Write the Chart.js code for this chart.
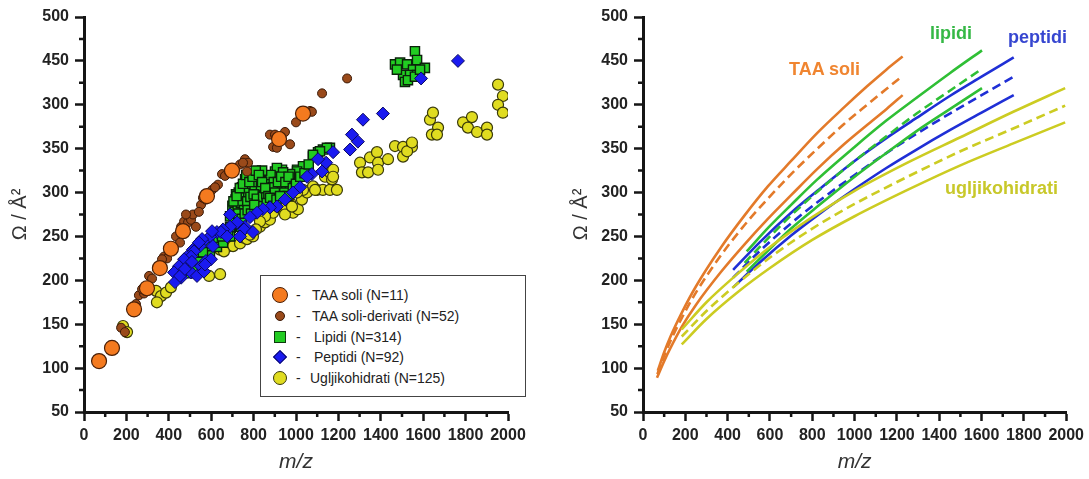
<!DOCTYPE html>
<html lang="hr">
<head>
<meta charset="UTF-8">
<title>Omega vs m/z</title>
<style>
  body { margin: 0; background: #fff; font-family: 'Liberation Sans', Arial, sans-serif; }
  #wrap { position: relative; width: 1089px; height: 479px; overflow: hidden; }
  .panel { position: absolute; top: 0; height: 479px; }
  #left { left: 0; width: 545px; }
  #right { left: 545px; width: 544px; }
  #legend { position: absolute; left: 260px; top: 275px; width: 264px; height: 120px; border: 1px solid #444; background: #fff; }
  .row { position: absolute; left: 0; width: 260px; height: 20px; line-height: 20px; font-size: 14px; color: #222; }
  .row .dash { position: absolute; left: 35px; }
  .row .txt { position: absolute; white-space: nowrap; }
  .mk { position: absolute; box-sizing: border-box; }
  .tag { position: absolute; font-weight: bold; font-size: 18px; line-height: 20px; white-space: nowrap; }
</style>
</head>
<body>
<div id="wrap">
  <div class="panel" id="left"><canvas id="scatterChart"></canvas></div>
  <div class="panel" id="right"><canvas id="fitChart"></canvas></div>

  <div id="legend">
    <div class="row" style="top:9px"><span class="mk" style="left:11px;top:2px;width:16px;height:16px;border-radius:50%;background:#f47a1f;border:1.5px solid #4a2008"></span><span class="dash">-</span><span class="txt" style="left:51px">TAA soli (N=11)</span></div>
    <div class="row" style="top:30px"><span class="mk" style="left:14px;top:5px;width:10px;height:10px;border-radius:50%;background:#9a4a1a;border:1px solid #3a1a08"></span><span class="dash">-</span><span class="txt" style="left:51px">TAA soli-derivati (N=52)</span></div>
    <div class="row" style="top:51px"><span class="mk" style="left:13px;top:4px;width:12px;height:12px;background:#22cc22;border:1.5px solid #0d3a0d"></span><span class="dash">-</span><span class="txt" style="left:53px">Lipidi (N=314)</span></div>
    <div class="row" style="top:71px"><span class="mk" style="left:14px;top:5px;width:10px;height:10px;background:#1a1af0;border:1px solid #0a0a60;transform:rotate(45deg)"></span><span class="dash">-</span><span class="txt" style="left:53px">Peptidi (N=92)</span></div>
    <div class="row" style="top:92px"><span class="mk" style="left:12px;top:3px;width:14px;height:14px;border-radius:50%;background:#e0dc20;border:1.5px solid #3a3a0a"></span><span class="dash">-</span><span class="txt" style="left:49px">Ugljikohidrati (N=125)</span></div>
  </div>

  <div class="tag" style="left:789px;top:59px;color:#f08530">TAA soli</div>
  <div class="tag" style="left:930px;top:23px;color:#35b845">lipidi</div>
  <div class="tag" style="left:1008px;top:27px;color:#3646d0">peptidi</div>
  <div class="tag" style="left:945px;top:178px;color:#c8c82a">ugljikohidrati</div>
</div>

<script src="https://cdn.jsdelivr.net/npm/chart.js"></script>
<script>
// tick labels as printed in the figure (third label from the top really reads 300)
const xTickLabels = ['0', '200', '400', '600', '800', '1000', '1200', '1400', '1600', '1800', '2000'];
const yTickLabels = ['50', '100', '150', '200', '250', '300', '350', '300', '450', '500'];

// left panel: [m/z, omega]
const taaSoli = [[71,108],[132,123],[236,167],[297,191],[358,214],[410,236],[467,256],[580,296],[698,325],[920,361],[1033,390]];

const taaDerivati = [[175,146],[193,141],[231,164],[259,183],[283,185],[307,205],[321,202],[344,213],[377,227],[392,225],
  [420,235],[434,250],[453,243],[458,261],[472,267],[491,266],[505,269],[514,275],[528,261],[552,286],[561,294],[604,303],
  [632,309],[651,321],[665,319],[712,328],[736,332],[759,338],[774,334],[769,324],[750,334],[877,366],[892,352],[910,351],
  [901,366],[948,369],[972,355],[1000,380],[1066,393],[1123,413],[1241,430],[1075,392],[481,275],[542,278],[575,292],
  [368,224],[406,238],[274,190],[245,173],[684,324],[618,306],[925,360]];

const lipidi = [[693,260],[660,255],[637,249],[623,244],[575,232],[552,224],[528,222],[519,230],[505,221],[557,238],
  [590,241],[722,267],[741,261],[486,221],[514,216],[547,222],[571,230],[594,232],[627,238],[656,243],[689,250],[585,239],
  [524,227],[561,232],[547,221],[651,250],[679,255],[689,261],[726,269],[736,281],[750,292],[783,303],[816,311],[844,315],
  [868,318],[901,324],[934,326],[972,317],[1005,326],[1042,330],[1080,341],[1104,346],[1127,349],[1160,351],[910,328],
  [783,318],[769,311],[797,292],[830,296],[863,303],[722,289],[703,281],[736,269],[783,284],[821,289],[854,290],[887,296],
  [915,303],[939,307],[972,311],[1005,315],[1033,321],[1052,324],[939,318],[868,311],[830,306],[807,300],[769,296],
  [750,283],[726,277],[689,273],[1146,351],[1113,347],[1080,343],[1033,330],[1005,324],[972,321],[934,313],[910,307],
  [892,318],[939,323],[972,307],[892,300],[759,298],[792,306],[830,315],[840,301],[877,308],[774,286],[811,281],[849,285],
  [717,298],[745,306],[470,212],[495,208],
  [700,285],[715,292],[730,300],[745,295],[760,305],[775,300],[790,310],[805,305],[820,312],[835,308],[850,318],[865,313],
  [880,320],[895,312],[710,278],[725,283],[740,288],[755,280],[770,290],[785,295],[800,298],[815,293],[830,285],[845,295],
  [860,298],[875,302],[890,306],[760,315],[800,320],[840,325],
  [705,290],[720,296],[735,305],[750,310],[765,320],[780,312],[795,318],[810,325],[825,320],[840,312],[855,305],[870,296],
  [885,290],[900,300],[915,312],[930,318],[945,300],[960,296],[712,272],[728,276],[744,270],[758,276],[772,280],[788,276],
  [803,286],[862,288],[878,294],[893,285],[908,292],[925,296],[950,312],[965,318],[985,305],[1000,310],[1020,318],
  [1040,322],[1060,332],
  [1561,461],[1571,451],[1608,442],[1467,446],[1491,448],[1524,446],[1552,440],[1505,434],[1538,434],[1571,434],
  [1514,426],[1528,428],[1561,432],[1585,440],[1476,440]];

const peptidi = [[1764,450],[1590,430],[1410,390],[1316,383],[1264,366],[1292,358],[1255,349],[1175,346],[1142,334],
  [1123,324],[1075,321],[1052,318],[1019,306],[986,300],[948,292],[910,284],[877,283],[844,281],[816,277],[783,272],
  [759,261],[722,266],[689,261],[656,258],[627,255],[594,250],[561,244],[547,239],[514,235],[486,227],[462,218],[755,258],
  [646,255],[604,256],[557,247],[542,243],[519,233],[505,227],[472,224],[448,216],[425,209],[472,210],[505,209],[533,205],
  [458,203],[552,216],[575,222],[599,224],[566,210],[429,198],[453,205],[476,213],[509,221],[608,239],[675,250],[736,250],
  [797,255],[571,218],[689,275],[1104,338]];

const ugljikohidrati = [[184,148],[203,141],[340,188],[363,182],[344,175],[387,186],[410,192],[590,205],[642,207],
  [642,235],[675,238],[703,239],[736,242],[750,249],[660,233],[769,247],[797,250],[830,261],[854,266],[877,269],[892,277],
  [854,273],[830,267],[915,284],[939,286],[972,289],[986,277],[1009,281],[1028,292],[1052,300],[1080,307],[1099,303],
  [1033,303],[1005,300],[1127,303],[1160,303],[1193,303],[1137,318],[1160,323],[1175,326],[1170,315],[1302,334],[1311,323],
  [1340,323],[1349,340],[1382,346],[1387,334],[1387,326],[1434,338],[1467,353],[1505,352],[1547,352],[1505,341],[1524,347],
  [1547,357],[1632,383],[1646,391],[1670,374],[1641,366],[1665,366],[1788,380],[1830,386],[1811,374],[1854,369],[1901,374],
  [1901,366],[1953,423],[1976,410],[1953,400],[1976,391],[1090,303],[783,252],[811,258],[948,275],[962,292],[981,284],[1175,318]];

// right panel: fitted curves with their bands
const taaUpper = [[70,97],[100,118],[130,136],[183,163],[250,193],[370,238],[480,274],[590,307],[700,336],[824,368],[950,397],[1059,421],[1150,440],[1227,455]];
const taaMid   = [[68,93],[100,114],[130,131],[183,157],[250,186],[370,229],[480,263],[590,293],[700,321],[824,350],[950,378],[1059,400],[1150,418],[1227,433]];
const taaLower = [[66,89],[100,108],[130,123],[183,147],[250,172],[370,210],[480,241],[590,270],[700,297],[824,327],[950,355],[1059,377],[1150,395],[1227,411]];
const lipUpper = [[490,233],[600,262],[700,286],[824,315],[1000,352],[1150,382],[1293,408],[1450,436],[1602,462]];
const lipMid   = [[480,220],[600,250],[700,274],[824,301],[1000,336],[1150,364],[1293,390],[1450,416],[1602,441]];
const lipLower = [[490,210],[600,236],[700,259],[824,284],[1000,318],[1150,345],[1293,370],[1450,395],[1602,419]];
const pepUpper = [[426,212],[550,243],[700,277],[824,302],[1000,336],[1150,362],[1293,385],[1450,410],[1600,432],[1752,454]];
const pepMid   = [[426,203],[550,233],[700,265],[824,289],[1000,320],[1150,345],[1293,367],[1450,390],[1600,411],[1752,432]];
const pepLower = [[426,192],[550,220],[700,251],[824,274],[1000,304],[1150,328],[1293,349],[1450,371],[1600,391],[1752,411]];
const ugjUpper = [[183,144],[300,175],[450,208],[600,238],[800,272],[1000,302],[1250,334],[1500,363],[1750,392],[1995,419]];
const ugjMid   = [[183,136],[300,165],[450,197],[600,226],[800,259],[1000,287],[1250,318],[1500,347],[1750,373],[1995,399]];
const ugjLower = [[183,127],[300,156],[450,187],[600,214],[800,246],[1000,273],[1250,303],[1500,331],[1750,356],[1995,380]];

const toXY = arr => arr.map(p => ({ x: p[0], y: p[1] }));
const tickFont = { family: "'Liberation Sans', Arial, sans-serif", size: 16, weight: 'bold' };
const ink = '#151515';

// short ticks between the labelled ones
const minorTicks = {
  id: 'minorTicks',
  afterDraw(chart) {
    const { ctx, scales: { x, y } } = chart;
    ctx.save();
    ctx.strokeStyle = ink;
    ctx.lineWidth = 2.5;
    ctx.beginPath();
    for (let v = 100; v < 2000; v += 200) {
      const px = x.getPixelForValue(v);
      ctx.moveTo(px, x.top);
      ctx.lineTo(px, x.top + 5);
    }
    for (let v = 75; v < 500; v += 50) {
      const py = y.getPixelForValue(v);
      ctx.moveTo(y.right, py);
      ctx.lineTo(y.right - 5, py);
    }
    ctx.stroke();
    ctx.restore();
  }
};

function makeScales(yWidth) {
  return {
    x: {
      type: 'linear', min: 0, max: 2000,
      afterBuildTicks(s) { s.ticks = xTickLabels.map(t => ({ value: Number(t) })); },
      afterFit(s) { s.height = 67; },
      ticks: { font: tickFont, color: '#222', padding: 5, maxRotation: 0, autoSkip: false,
        callback: (v, i) => xTickLabels[i] },
      grid: { drawOnChartArea: false, drawTicks: true, tickLength: 9, tickWidth: 2.5, tickColor: ink },
      border: { display: true, color: ink, width: 3 },
      title: { display: true, text: 'm/z', color: '#333', padding: { top: 0, bottom: 4 },
        font: { family: "'Liberation Sans', Arial, sans-serif", size: 21, style: 'italic' } }
    },
    y: {
      type: 'linear', min: 50, max: 500,
      afterBuildTicks(s) { s.ticks = yTickLabels.map((t, i) => ({ value: 50 + i * 50 })); },
      afterFit(s) { s.width = yWidth; },
      ticks: { font: tickFont, color: '#222', padding: 6, autoSkip: false,
        callback: (v, i) => yTickLabels[i] },
      grid: { drawOnChartArea: false, drawTicks: true, tickLength: 9, tickWidth: 2.5, tickColor: ink },
      border: { display: true, color: ink, width: 3 },
      title: { display: true, text: 'Ω / Å²', color: '#333', padding: { top: 8, bottom: 0 },
        font: { family: "'Liberation Sans', Arial, sans-serif", size: 20 } }
    }
  };
}

const commonPlugins = { legend: { display: false }, tooltip: { enabled: false } };

new Chart(document.getElementById('scatterChart'), {
  type: 'scatter',
  data: {
    datasets: [
      { label: 'TAA soli (N=11)', data: toXY(taaSoli), pointStyle: 'circle', pointRadius: 7.5,
        backgroundColor: '#f47a1f', borderColor: '#4a2008', borderWidth: 1.2, order: 0 },
      { label: 'TAA soli-derivati (N=52)', data: toXY(taaDerivati), pointStyle: 'circle', pointRadius: 4.5,
        backgroundColor: '#9a4a1a', borderColor: '#3a1a08', borderWidth: 1, order: 1 },
      { label: 'Peptidi (N=92)', data: toXY(peptidi), pointStyle: 'rectRot', pointRadius: 6.5,
        backgroundColor: '#1a1af0', borderColor: '#0a0a60', borderWidth: 1, order: 2 },
      { label: 'Lipidi (N=314)', data: toXY(lipidi), pointStyle: 'rect', pointRadius: 6.5,
        backgroundColor: '#22cc22', borderColor: '#0b220b', borderWidth: 1.4, order: 3 },
      { label: 'Ugljikohidrati (N=125)', data: toXY(ugljikohidrati), pointStyle: 'circle', pointRadius: 5.5,
        backgroundColor: '#e0dc20', borderColor: '#3a3a0a', borderWidth: 1.2, order: 4 }
    ]
  },
  options: {
    responsive: true, maintainAspectRatio: false, animation: false,
    layout: { padding: { left: 0, right: 37, top: 17, bottom: 0 } },
    scales: makeScales(84),
    plugins: commonPlugins
  },
  plugins: [minorTicks]
});

function fitLine(arr, color, dashed) {
  return { data: toXY(arr), borderColor: color, borderWidth: 2.6, borderDash: dashed ? [9, 5] : [],
    pointRadius: 0, fill: false, showLine: true, cubicInterpolationMode: 'monotone' };
}

const orange = '#e37a2a', green = '#2fbf35', blue = '#1f2fd6', yellow = '#cccc22';

new Chart(document.getElementById('fitChart'), {
  type: 'scatter',
  data: {
    datasets: [
      fitLine(ugjUpper, yellow), fitLine(ugjMid, yellow, true), fitLine(ugjLower, yellow),
      fitLine(lipUpper, green), fitLine(lipMid, green, true), fitLine(lipLower, green),
      fitLine(pepUpper, blue), fitLine(pepMid, blue, true), fitLine(pepLower, blue),
      fitLine(taaUpper, orange), fitLine(taaMid, orange, true), fitLine(taaLower, orange)
    ]
  },
  options: {
    responsive: true, maintainAspectRatio: false, animation: false,
    layout: { padding: { left: 16, right: 20, top: 17, bottom: 0 } },
    scales: makeScales(82),
    plugins: commonPlugins
  },
  plugins: [minorTicks]
});
</script>
</body>
</html>
